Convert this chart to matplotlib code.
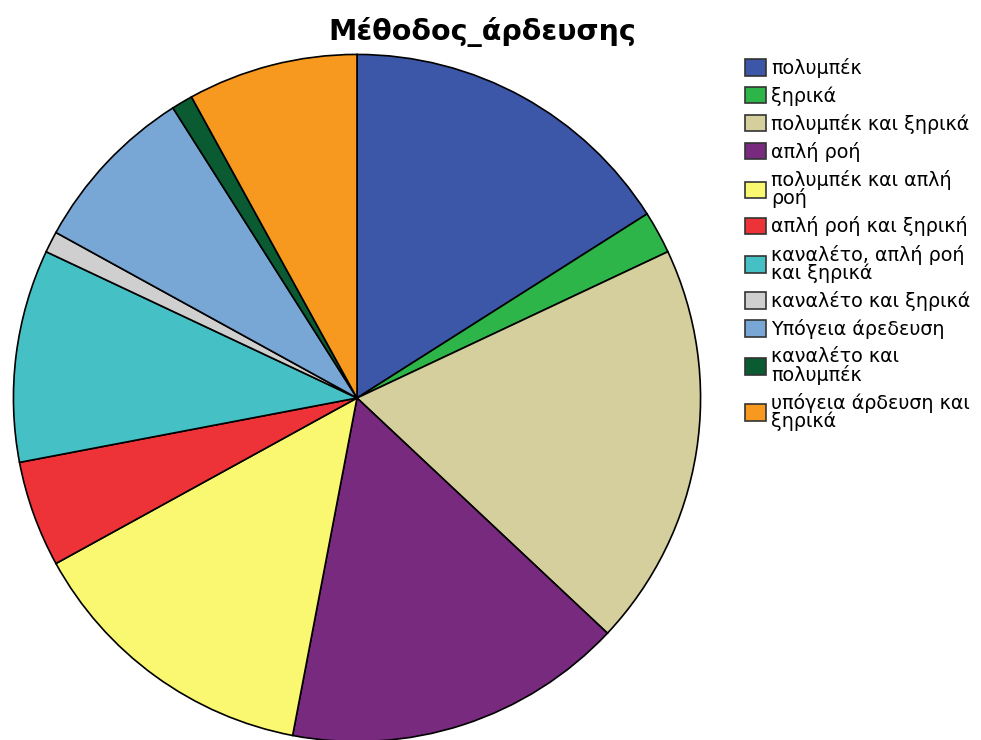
import matplotlib.pyplot as plt
from matplotlib.patches import Patch

categories = ['πολυμπέκ', 'ξηρικά', 'πολυμπέκ και ξηρικά', 'απλή ροή',
              'πολυμπέκ και απλή\nροή', 'απλή ροή και ξηρική',
              'καναλέτο, απλή ροή\nκαι ξηρικά', 'καναλέτο και ξηρικά',
              'Υπόγεια άρεδευση', 'καναλέτο και\nπολυμπέκ',
              'υπόγεια άρδευση και\nξηρικά']
counts = [16, 2, 19, 16, 14, 5, 10, 1, 8, 1, 8]
colors = ['#3c56a8', '#2db54a', '#d4cf9d', '#772a7e', '#faf870', '#ee3338',
          '#45c0c4', '#cfcfcf', '#78a7d6', '#0b5b32', '#f7991f']

W, H = 981, 740
fig = plt.figure(figsize=(W / 100, H / 100), dpi=100)

# pie centre ~ (357, 398) px, radius ~347 px
cx, cy, r = 357, 398, 347
ax = fig.add_axes([(cx - r) / W, (H - cy - r) / H, 2 * r / W, 2 * r / H])
ax.pie(counts, colors=colors, startangle=90, counterclock=False,
       wedgeprops=dict(edgecolor='black', linewidth=1.2), radius=1)
ax.set_xlim(-1.01, 1.01)
ax.set_ylim(-1.01, 1.01)
ax.set_aspect('equal')
ax.axis('off')

fig.text(482 / W, 1 - 32 / H, 'Μέθοδος_άρδευσης', ha='center', va='center',
         fontsize=20.5, fontweight='bold')

handles = [Patch(facecolor=c, edgecolor='#333333', linewidth=1.2) for c in colors]
leg = fig.legend(handles, categories, loc='upper left', bbox_to_anchor=(745 / W, 1 - 58 / H),
                 frameon=False, fontsize=13.8, handlelength=1.1, handleheight=0.95,
                 handletextpad=0.25, labelspacing=0.42, borderpad=0, borderaxespad=0)
for t in leg.get_texts():
    t.set_linespacing(0.92)

fig.savefig('out.png', dpi=100)
